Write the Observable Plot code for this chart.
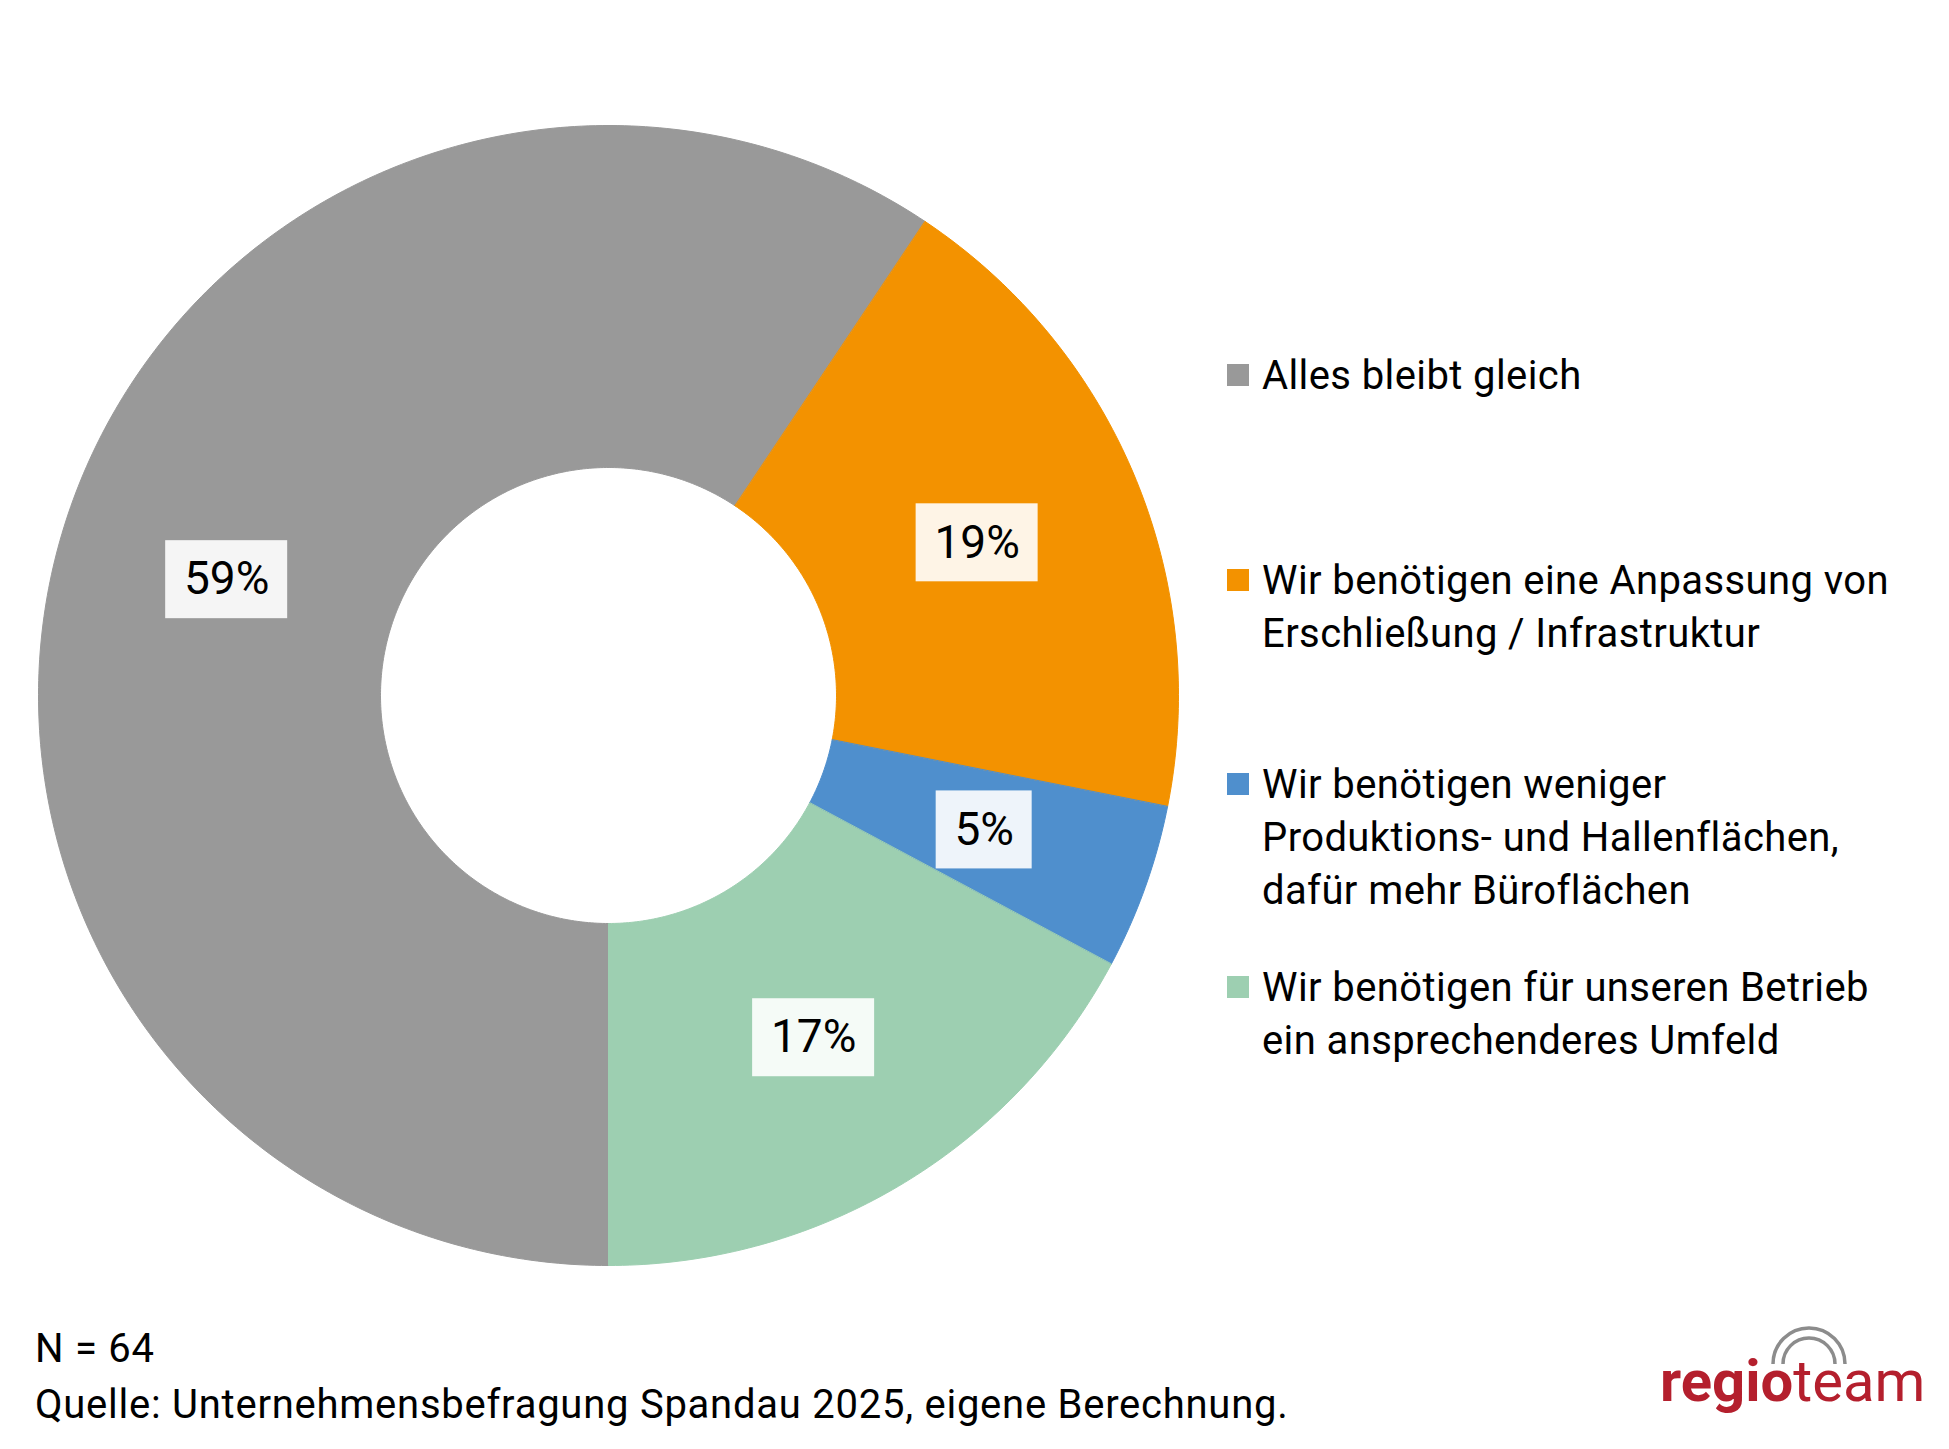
<!DOCTYPE html>
<html><head><meta charset="utf-8">
<script src="https://cdn.jsdelivr.net/npm/d3@7"></script>
<script src="https://cdn.jsdelivr.net/npm/@observablehq/plot@0.6"></script>
<style>
html,body{margin:0;padding:0;background:#fff;}
body{width:1949px;height:1449px;position:relative;overflow:hidden;font-family:Roboto,"Noto Sans",sans-serif;color:#000;}
#chart{position:absolute;left:0;top:0;}
.leg{position:absolute;left:1262px;font-size:40px;letter-spacing:0.4px;line-height:53px;white-space:nowrap;}
.leg .sw{position:absolute;left:-35px;top:15px;width:22px;height:22px;}
#footer{position:absolute;left:35px;top:1321px;font-size:40px;letter-spacing:0.75px;line-height:56px;white-space:nowrap;}
#logo{position:absolute;left:1600px;top:1320px;}
</style></head><body>
<div id="chart"></div>
<div id="legend"></div>
<div id="footer"></div>
<svg id="logo" width="349" height="129" viewBox="1600 1320 349 129">
  <path d="M1773,1364 A36,36 0 1 1 1845,1364" fill="none" stroke="#8c8c8c" stroke-width="3.5"/>
  <path d="M1783,1364 A26,26 0 1 1 1835,1364" fill="none" stroke="#8c8c8c" stroke-width="3.5"/>
  <text x="1660" y="1401" font-family="Roboto, sans-serif" font-size="58" fill="#b41f2d"><tspan font-weight="bold">regio</tspan><tspan>team</tspan></text>
</svg>
<script>
// ---- data ----
const categories = [
  "Alles bleibt gleich",
  "Wir benötigen eine Anpassung von Erschließung / Infrastruktur",
  "Wir benötigen weniger Produktions- und Hallenflächen, dafür mehr Büroflächen",
  "Wir benötigen für unseren Betrieb ein ansprechenderes Umfeld"
];
const counts = [38, 12, 3, 11];          // responses (N = 64)
const N = 64;
const colors = ["#999999", "#f39200", "#4f8fcd", "#9dcfb1"];
const legendLines = [
  ["Alles bleibt gleich"],
  ["Wir benötigen eine Anpassung von", "Erschließung / Infrastruktur"],
  ["Wir benötigen weniger", "Produktions- und Hallenflächen,", "dafür mehr Büroflächen"],
  ["Wir benötigen für unseren Betrieb", "ein ansprechenderes Umfeld"]
];
const footerLines = ["N = 64", "Quelle: Unternehmensbefragung Spandau 2025, eigene Berechnung."];

// ---- geometry (donut in unit coordinates, outer radius 1) ----
const W = 1949, H = 1449;
const R = 1, r = 0.4, startAngle = Math.PI;   // first slice starts at the bottom, clockwise
const pxPerUnit = 570;
const total = d3.sum(counts);
let acc = startAngle;
const points = [];
const labels = [];
categories.forEach((cat, i) => {
  const a0 = acc, a1 = acc + counts[i] / total * 2 * Math.PI;
  acc = a1;
  const n = Math.max(8, Math.ceil((a1 - a0) * 80));
  for (let k = 0; k <= n; k++) { const a = a0 + (a1 - a0) * k / n; points.push({cat, x: R * Math.sin(a), y: R * Math.cos(a)}); }
  for (let k = n; k >= 0; k--) { const a = a0 + (a1 - a0) * k / n; points.push({cat, x: r * Math.sin(a), y: r * Math.cos(a)}); }
  const am = (a0 + a1) / 2, rm = (R + r) / 2;
  const text = Math.round(counts[i] / N * 100) + "%";
  const wpx = 44 + 26 * (text.length - 1) + 26, hpx = 78;
  const cx = rm * Math.sin(am), cy = rm * Math.cos(am);
  labels.push({cat, text, x: cx, y: cy,
    x1: cx - wpx / 2 / pxPerUnit, x2: cx + wpx / 2 / pxPerUnit,
    y1: cy - hpx / 2 / pxPerUnit, y2: cy + hpx / 2 / pxPerUnit});
});

const plot = Plot.plot({
  width: W, height: H,
  marginLeft: 38, marginRight: W - 1178, marginTop: 125, marginBottom: H - 1265,
  x: {domain: [-1, 1], axis: null},
  y: {domain: [-1, 1], axis: null},
  color: {domain: categories, range: colors},
  style: {background: "transparent"},
  marks: [
    Plot.line(points, {x: "x", y: "y", z: "cat", fill: "cat", stroke: "cat", strokeWidth: 1, curve: "linear-closed"}),
    Plot.rect(labels, {x1: "x1", x2: "x2", y1: "y1", y2: "y2", fill: "white", fillOpacity: 0.9}),
    Plot.text(labels, {x: "x", y: "y", text: "text", fontSize: 46, fill: "#000", fontFamily: "Roboto, sans-serif"})
  ]
});
document.getElementById("chart").appendChild(plot);

// ---- legend ----
const legTops = [348.5, 553.5, 757.5, 960.5];
const legend = document.getElementById("legend");
legendLines.forEach((lines, i) => {
  const d = document.createElement("div");
  d.className = "leg";
  d.style.top = legTops[i] + "px";
  const sw = document.createElement("div");
  sw.className = "sw"; sw.style.background = colors[i];
  d.appendChild(sw);
  lines.forEach((t, j) => { if (j) d.appendChild(document.createElement("br")); d.appendChild(document.createTextNode(t)); });
  legend.appendChild(d);
});
const footer = document.getElementById("footer");
footerLines.forEach((t, j) => { if (j) footer.appendChild(document.createElement("br")); footer.appendChild(document.createTextNode(t)); });
</script>
</body></html>
